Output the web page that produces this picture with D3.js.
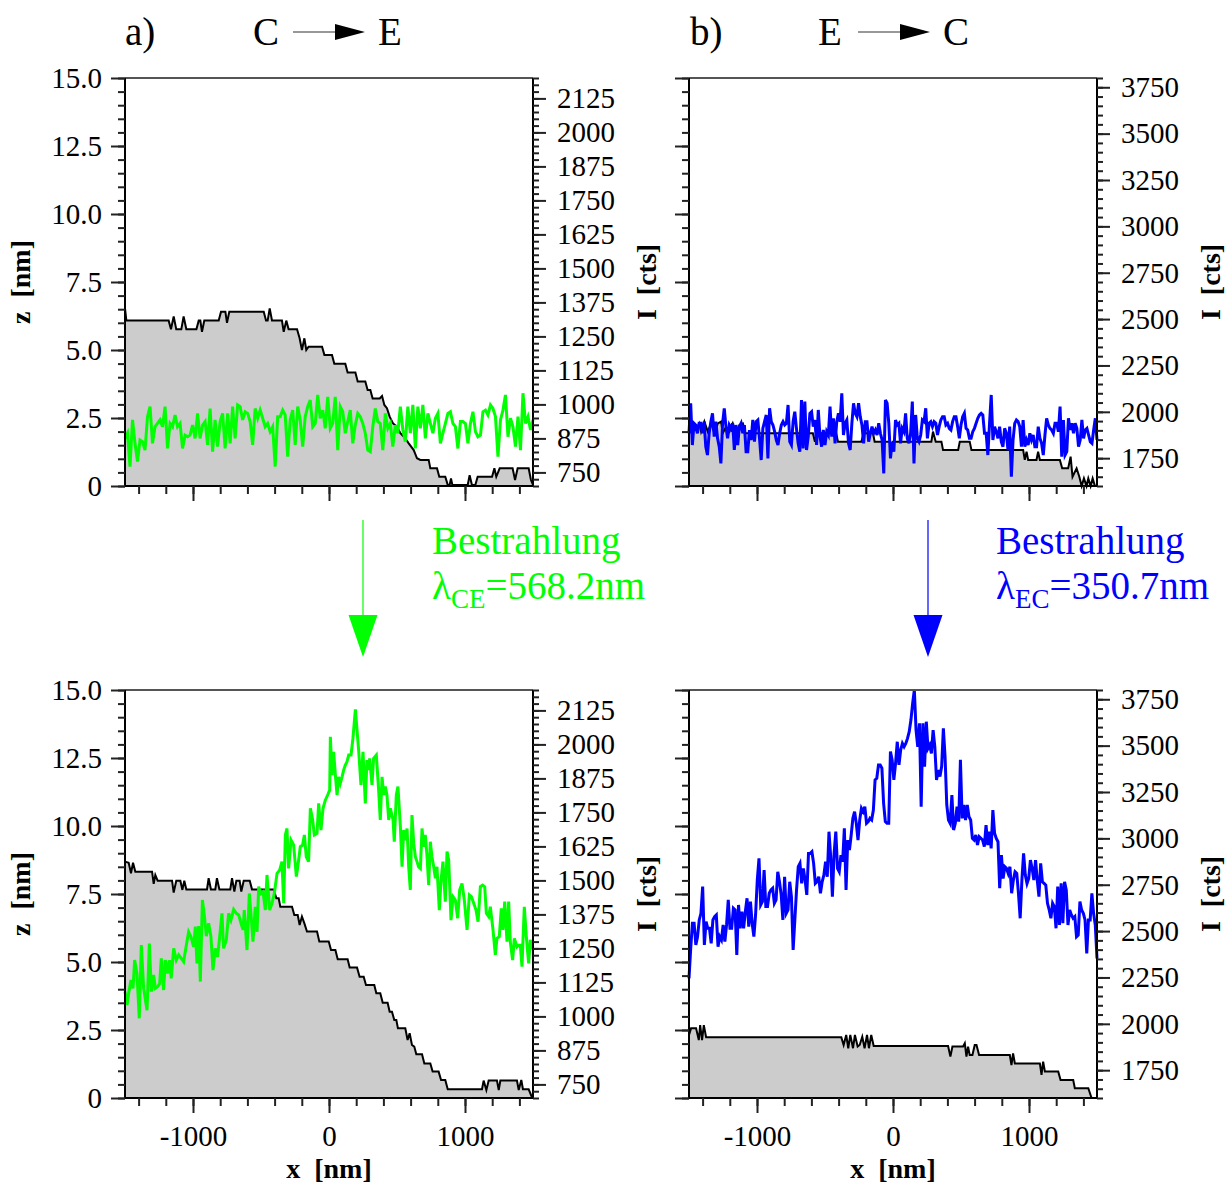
<!DOCTYPE html>
<html>
<head>
<meta charset="utf-8">
<script src="https://cdn.jsdelivr.net/npm/d3@7"></script>
<style>
  body { margin: 0; background: #fff; }
  text { font-family: "Liberation Serif", "Times New Roman", serif; }
</style>
</head>
<body>
<svg id="chart" width="1225" height="1184"></svg>
<script>
// scan range and axis domains
const xDomain = [-1500, 1500]
const zDomain = [0, 15]
const ceCountsDomain = [700, 2200]
const ecCountsDomain = [1600, 3800]

const xMajorTicks = [-1000, 0, 1000]
const zMajorTicks = [0, 2.5, 5, 7.5, 10, 12.5, 15]
const ceCountTicks = [750, 875, 1000, 1125, 1250, 1375, 1500, 1625, 1750, 1875, 2000, 2125]
const ecCountTicks = [1750, 2000, 2250, 2500, 2750, 3000, 3250, 3500, 3750]

// a) C -> E, before irradiation: height profile (x nm, z nm) and counts
const ceBeforeProfileX = [-1500,-1490,-1179,-1162,-1142,-1123,-1086,-1069,-1049,-975,-958,-946,-934,-917,-811,-794,-762,-750,-733,-480,-463,-451,-436,-419,-346,-333,-314,-297,-235,-216,-199,-181,-167,-150,-51,-34,22,39,120,137,194,211,267,284,304,321,373,390,407,426,446,471,500,525,561,586,623,647,672,733,745,794,811,855,873,887,897,907,1020,1034,1051,1076,1093,1199,1216,1230,1255,1350,1368,1387,1468,1485,1500]
const ceBeforeProfileZ = [6.53,6.08,6.08,5.76,6.23,5.76,5.76,6.23,5.76,5.76,6.08,6.08,5.67,6.08,6.08,6.41,6.41,6.00,6.41,6.41,6.08,6.08,6.53,6.08,6.08,5.67,6.08,5.76,5.76,5.43,5.00,5.43,5.00,5.12,5.12,4.82,4.82,4.49,4.49,4.17,4.17,3.84,3.84,3.53,3.53,3.22,3.22,3.31,2.98,2.86,2.55,2.30,2.18,1.94,1.75,1.57,1.32,1.02,0.96,0.96,0.65,0.65,0.34,0.34,0.04,0.04,0.28,0.04,0.04,0.40,0.04,0.04,0.34,0.34,0.65,0.34,0.65,0.65,0.22,0.65,0.65,0.22,0.04]
const ceBeforeCounts = [875,894,771,943,857,790,869,863,832,955,992,857,918,930,943,918,992,838,930,918,961,918,930,838,887,881,887,924,875,967,875,924,937,851,985,826,943,845,937,967,838,967,857,992,875,998,992,943,973,967,937,851,985,949,979,949,918,930,900,918,771,955,955,979,961,808,943,979,851,992,943,845,955,992,1016,918,930,1035,949,979,912,1028,912,930,1028,832,992,973,894,937,979,857,924,967,955,930,894,832,826,918,985,937,930,832,967,912,930,845,924,894,992,906,863,992,894,998,838,992,912,998,875,967,930,894,949,967,857,894,930,967,973,930,918,838,937,937,930,857,930,973,900,881,887,973,979,961,998,985,955,808,943,979,1035,881,949,918,845,955,832,1041,930,955,906,943]

// a) after irradiation
const ceAfterProfileX = [-1500,-1473,-1456,-1441,-1424,-1301,-1289,-1277,-1260,-1154,-1142,-1123,-1093,-1078,-1064,-1049,-897,-885,-868,-836,-824,-806,-726,-713,-696,-681,-657,-645,-627,-583,-566,-407,-387,-370,-358,-272,-255,-230,-216,-199,-181,-162,-88,-71,-2,15,47,64,137,152,206,225,255,272,333,348,377,395,431,446,463,480,495,507,561,578,593,610,627,642,684,701,745,762,806,824,855,873,1125,1137,1157,1174,1235,1248,1260,1382,1395,1414,1426,1468,1493,1500]
const ceAfterProfileZ = [8.69,8.65,8.26,8.65,8.32,8.32,7.87,8.20,7.99,7.99,7.55,7.99,7.99,7.65,7.99,7.67,7.67,8.08,7.67,7.67,8.08,7.67,7.67,8.08,7.59,7.99,7.99,7.59,7.99,7.99,7.67,7.67,7.34,7.34,7.03,7.03,6.73,6.73,6.36,6.67,6.42,6.12,6.12,5.75,5.75,5.44,5.44,5.10,5.10,4.80,4.80,4.46,4.46,4.15,4.15,3.85,3.85,3.50,3.50,3.17,3.17,2.87,2.87,2.56,2.56,2.13,2.38,1.95,1.89,1.61,1.61,1.27,1.27,0.97,0.97,0.66,0.66,0.32,0.32,0.64,0.29,0.64,0.64,0.29,0.64,0.64,0.29,0.66,0.32,0.32,0.02,0]
const ceAfterCountsX = [-1500,-1485,-1473,-1456,-1441,-1429,-1412,-1395,-1380,-1363,-1338,-1321,-1306,-1289,-1277,-1260,-1245,-1233,-1216,-1203,-1186,-1172,-1160,-1142,-1123,-1105,-1086,-1069,-1049,-1032,-1015,-995,-983,-971,-959,-946,-931,-917,-902,-885,-868,-853,-836,-819,-804,-787,-775,-755,-738,-721,-701,-681,-664,-647,-632,-623,-603,-586,-574,-559,-542,-529,-517,-500,-485,-468,-456,-436,-419,-402,-382,-363,-346,-333,-321,-309,-297,-279,-260,-240,-223,-211,-194,-181,-167,-150,-137,-120,-108,-88,-76,-59,-44,-27,-10,5,10,22,34,47,59,71,83,96,108,120,132,145,162,176,194,206,218,235,250,267,279,292,299,316,328,348,365,377,390,402,414,426,439,451,471,480,495,507,525,537,549,561,574,586,598,610,623,635,647,659,672,684,696,708,721,733,745,757,770,782,794,811,824,838,855,868,880,897,912,929,946,961,978,995,1015,1032,1047,1064,1081,1096,1113,1130,1145,1157,1174,1186,1206,1223,1235,1252,1267,1279,1292,1309,1321,1333,1350,1363,1382,1395,1407,1419,1436,1451,1468,1480,1500]
const ceAfterCounts = [1091,1042,1085,1134,1103,1207,1158,993,1262,1103,1023,1268,1091,1152,1103,1109,1121,1213,1097,1207,1158,1207,1140,1250,1207,1226,1213,1201,1262,1311,1293,1256,1330,1195,1332,1128,1428,1373,1295,1342,1293,1170,1250,1219,1293,1379,1250,1281,1379,1354,1393,1379,1373,1342,1318,1391,1244,1452,1379,1275,1403,1311,1477,1452,1458,1391,1520,1391,1416,1452,1526,1538,1569,1416,1667,1691,1544,1648,1630,1514,1575,1624,1630,1667,1587,1569,1765,1722,1667,1673,1783,1685,1765,1795,1814,1832,2028,1887,1973,1887,1814,1881,1857,1881,1906,1924,1936,1961,1961,2022,2129,2053,1979,1851,1973,1783,1942,1906,1949,1851,1949,1961,1832,1722,1881,1814,1845,1814,1722,1765,1722,1642,1814,1845,1697,1550,1685,1648,1691,1550,1465,1740,1636,1587,1569,1550,1544,1691,1624,1667,1587,1483,1642,1587,1550,1508,1550,1391,1501,1569,1422,1606,1575,1354,1440,1428,1361,1465,1489,1428,1318,1446,1440,1416,1391,1348,1477,1483,1477,1379,1367,1403,1318,1226,1287,1293,1397,1318,1422,1275,1422,1275,1207,1287,1256,1262,1262,1183,1403,1293,1195,1281,1244]

// b) E -> C, before irradiation
const ecBeforeProfileX = [-1500,-1472,-1448,-1423,-1411,-1387,-1362,-1337,-1313,-1288,-1264,-1252,-1227,-1202,-1178,-1153,-1129,-1104,-1085,-589,-574,-560,-417,-405,-233,-216,-147,-135,-25,-12,0,282,294,314,356,368,479,491,564,577,957,969,982,994,1055,1067,1080,1227,1244,1288,1306,1320,1350,1370,1387,1404,1423,1436,1453,1468,1485,1500]
const ecBeforeProfileZ = [1.94,2.24,2.06,2.30,2.00,2.37,2.00,2.30,1.94,2.30,2.37,1.94,2.18,2.00,2.30,1.94,2.24,2.30,1.94,1.94,1.63,1.94,1.94,1.63,1.63,1.94,1.94,1.63,1.63,1.32,1.63,1.63,2.00,1.63,1.63,1.32,1.32,1.63,1.63,1.32,1.32,0.96,1.26,0.96,0.96,1.26,0.96,0.96,0.65,0.65,1.08,0.34,0.65,0.34,0,0.28,0,0.28,0,0.28,0,0]
const ecBeforeCounts = [1884,2046,1821,1938,1929,1884,1938,1938,1884,1947,1812,1767,1884,1947,1992,1866,1947,1857,1812,1722,1938,2019,1920,1857,1929,1911,1938,1794,1929,1821,1920,1938,1884,1929,1785,1785,1902,1848,1956,1839,1947,1956,1857,1740,1911,1947,1983,1749,2019,1947,1929,1893,1848,1821,1884,1929,1947,1929,1938,2037,1839,1821,1947,2001,1911,1830,1785,2064,1803,2055,1794,1866,1992,2001,1920,1956,1821,2010,1866,1812,1902,1821,1893,1875,2028,1866,1965,1830,1947,1992,1947,2100,1875,1938,1956,1830,1794,1938,2046,1992,1974,2046,1974,1929,1830,1947,1947,1839,1884,1920,1884,1902,1875,1938,1884,1848,1668,2064,2046,1938,1749,1839,1785,1956,1929,1938,1830,1911,1893,1992,1857,1830,1884,2055,1722,1983,1857,1839,1875,1956,1947,2019,1857,1938,1947,1920,1947,1938,1875,1920,1956,1974,1974,1929,1938,1911,1902,1947,1974,1974,1920,1857,1929,1974,1992,1911,1902,1857,1857,1893,1911,1938,1965,1983,1992,1983,1884,1884,1767,1938,2091,1848,1920,1893,1857,1920,1839,1812,1911,1884,1794,1920,1650,1848,1938,1956,1947,1920,1812,1956,1812,1848,1821,1884,1848,1875,1812,1812,1920,1857,1830,1767,1875,1965,1929,1911,1902,1884,1938,1938,1893,2028,1758,1956,1767,1785,1965,1902,1938,1884,1938,1911,1812,1848,1956,1857,1902,1911,1875,1839,1830,1902,1965,1848]

// b) after irradiation
const ecAfterProfileX = [-1500,-1485,-1448,-1428,-1418,-1404,-1391,-1374,-380,-363,-344,-329,-314,-294,-280,-260,-245,-226,-209,-191,-177,-160,-142,405,422,437,515,528,540,552,564,584,601,614,633,859,871,883,896,1080,1092,1104,1117,1215,1232,1325,1337,1436,1460,1500]
const ecAfterProfileZ = [2.32,2.56,2.56,2.13,2.68,2.13,2.68,2.23,2.23,1.95,2.32,1.83,2.32,1.83,2.32,1.89,1.95,2.25,1.83,2.32,1.83,2.32,1.91,1.91,1.52,1.89,1.89,2.01,1.52,1.89,1.58,1.58,1.95,1.95,1.58,1.58,1.21,1.64,1.27,1.27,0.85,1.34,0.97,0.97,0.66,0.66,0.36,0.36,0,0]
const ecAfterCounts = [2245,2407,2542,2542,2425,2470,2560,2596,2740,2425,2551,2515,2515,2434,2560,2578,2587,2416,2470,2452,2533,2443,2533,2668,2515,2515,2623,2614,2371,2641,2515,2605,2515,2605,2677,2524,2659,2542,2470,2587,2775,2892,2641,2659,2829,2632,2632,2704,2722,2731,2650,2668,2820,2766,2695,2560,2793,2596,2614,2766,2686,2398,2560,2722,2847,2865,2757,2838,2775,2695,2919,2919,2928,2865,2757,2766,2793,2704,2766,2802,2874,2793,3036,2901,2686,2919,3036,2838,2820,2910,2874,3054,2722,2991,2937,3018,3108,3144,3081,2991,3099,3162,3144,3171,3081,3090,3108,3099,3153,3315,3324,3396,3396,3378,3189,3090,3081,3081,3468,3423,3315,3405,3521,3396,3477,3512,3494,3512,3539,3575,3638,3728,3800,3584,3494,3620,3171,3620,3387,3629,3485,3503,3458,3584,3494,3315,3369,3333,3387,3593,3440,3180,3099,3081,3234,3045,3081,3171,3090,3423,3108,3180,3099,3180,3117,3099,3000,2991,3018,2964,3009,3000,2991,2955,3072,2964,3036,2946,3153,3027,3000,2982,2731,2910,2784,2847,2838,2811,2847,2704,2775,2820,2811,2704,2569,2775,2919,2802,2757,2784,2883,2838,2775,2883,2775,2686,2865,2766,2757,2748,2650,2614,2569,2650,2632,2515,2740,2533,2757,2542,2766,2722,2533,2614,2587,2569,2578,2470,2479,2659,2614,2596,2560,2380,2560,2560,2704,2596,2533,2353]

const green = '#00ff00'
const blue = '#0000ff'
const size = 408

const svg = d3.select('#chart')
svg.append('rect').attr('width', 1225).attr('height', 1184).attr('fill', '#fff')

function drawPanel(p) {
  const x = d3.scaleLinear().domain(xDomain).range([p.left, p.left + size])
  const z = d3.scaleLinear().domain(zDomain).range([p.top + size, p.top])
  const c = d3.scaleLinear().domain(p.countsDomain).range([p.top + size, p.top])
  // counts without their own positions are sampled evenly along the scan
  const scan = d3.scaleLinear().domain([0, p.counts.length - 1]).range(xDomain)
  const countPos = p.countsX ? (i => p.countsX[i]) : (i => scan(i))

  const g = svg.append('g')
  const profile = p.profileX.map((d, i) => [d, p.profileZ[i]])

  const area = d3.area()
    .x(d => x(d[0]))
    .y0(z(0))
    .y1(d => z(d[1]))
  g.append('path')
    .attr('d', area(profile))
    .attr('fill', '#cccccc')

  const line = d3.line()
    .x(d => x(d[0]))
    .y(d => z(d[1]))
  g.append('path')
    .attr('d', line(profile))
    .attr('fill', 'none')
    .attr('stroke', '#000')
    .attr('stroke-width', 2)

  const countLine = d3.line()
    .x((d, i) => x(countPos(i)))
    .y(d => c(d))
  g.append('path')
    .attr('d', countLine(p.counts))
    .attr('fill', 'none')
    .attr('stroke', p.color)
    .attr('stroke-width', 3)
    .attr('stroke-linejoin', 'miter')

  // frame
  const bottom = p.top + size
  const right = p.left + size
  g.append('line').attr('x1', p.left).attr('x2', right).attr('y1', p.top).attr('y2', p.top)
    .attr('stroke', '#555').attr('stroke-width', 2)
  g.append('line').attr('x1', p.left - 1).attr('x2', right + 1).attr('y1', bottom).attr('y2', bottom)
    .attr('stroke', '#000').attr('stroke-width', 2)
  g.append('line').attr('x1', p.left).attr('x2', p.left).attr('y1', p.top).attr('y2', bottom)
    .attr('stroke', '#000').attr('stroke-width', 2)
  g.append('line').attr('x1', right).attr('x2', right).attr('y1', p.top).attr('y2', bottom)
    .attr('stroke', '#000').attr('stroke-width', 2)

  const zFmt = d => d === 0 ? '0' : d3.format('.1f')(d)
  const style = sel => {
    sel.select('.domain').remove()
    sel.selectAll('line').attr('stroke', '#222').attr('stroke-width', 2)
    sel.selectAll('text')
      .attr('font-family', '"Liberation Serif", "Times New Roman", serif')
      .attr('font-size', 29)
      .attr('fill', '#000')
  }

  // left z axis
  g.append('g').attr('transform', `translate(${p.left},0)`)
    .call(d3.axisLeft(z).tickValues(d3.range(0, 15.01, 0.5)).tickSize(7).tickFormat(''))
    .call(style)
  g.append('g').attr('transform', `translate(${p.left},0)`)
    .call(d3.axisLeft(z).tickValues(zMajorTicks).tickSize(14).tickPadding(9)
      .tickFormat(p.zLabels ? zFmt : ''))
    .call(style)

  // right counts axis
  g.append('g').attr('transform', `translate(${right},0)`)
    .call(d3.axisRight(c).tickValues(d3.range(p.countsDomain[0], p.countsDomain[1] + 1, p.minorStep))
      .tickSize(6).tickFormat(''))
    .call(style)
  g.append('g').attr('transform', `translate(${right},0)`)
    .call(d3.axisRight(c).tickValues(p.countTicks).tickSize(13).tickPadding(11).tickFormat(d3.format('d')))
    .call(style)

  // bottom x axis
  g.append('g').attr('transform', `translate(0,${bottom})`)
    .call(d3.axisBottom(x).tickValues(d3.range(-1400, 1401, 200)).tickSize(8).tickFormat(''))
    .call(style)
  g.append('g').attr('transform', `translate(0,${bottom})`)
    .call(d3.axisBottom(x).tickValues(xMajorTicks).tickSize(15).tickPadding(12)
      .tickFormat(p.xLabels ? d3.format('d') : ''))
    .call(style)
    .call(sel => sel.selectAll('text').text(d => p.xLabels ? String(d) : ''))

  // axis titles
  if (p.zTitle) {
    g.append('text')
      .attr('transform', `translate(${p.left - 95},${p.top + 204}) rotate(-90)`)
      .attr('text-anchor', 'middle')
      .attr('font-size', 28)
      .attr('font-weight', 'bold')
      .style('white-space', 'pre')
      .text('z  [nm]')
  }
  g.append('text')
    .attr('transform', `translate(${right + 123},${p.top + 204}) rotate(-90)`)
    .attr('text-anchor', 'middle')
    .attr('font-size', 28)
    .attr('font-weight', 'bold')
    .style('white-space', 'pre')
    .text('I  [cts]')
  if (p.xLabels) {
    g.append('text')
      .attr('x', p.left + size / 2)
      .attr('y', bottom + 80)
      .attr('text-anchor', 'middle')
      .attr('font-size', 28)
      .attr('font-weight', 'bold')
      .style('white-space', 'pre')
      .text('x  [nm]')
  }
}

drawPanel({ left: 125, top: 78, countsDomain: ceCountsDomain, countTicks: ceCountTicks, minorStep: 25,
  profileX: ceBeforeProfileX, profileZ: ceBeforeProfileZ, counts: ceBeforeCounts, color: green,
  zLabels: true, zTitle: true, xLabels: false })
drawPanel({ left: 125, top: 690, countsDomain: ceCountsDomain, countTicks: ceCountTicks, minorStep: 25,
  profileX: ceAfterProfileX, profileZ: ceAfterProfileZ, counts: ceAfterCounts, countsX: ceAfterCountsX,
  color: green, zLabels: true, zTitle: true, xLabels: true })
drawPanel({ left: 689, top: 78, countsDomain: ecCountsDomain, countTicks: ecCountTicks, minorStep: 50,
  profileX: ecBeforeProfileX, profileZ: ecBeforeProfileZ, counts: ecBeforeCounts, color: blue,
  zLabels: false, zTitle: false, xLabels: false })
drawPanel({ left: 689, top: 690, countsDomain: ecCountsDomain, countTicks: ecCountTicks, minorStep: 50,
  profileX: ecAfterProfileX, profileZ: ecAfterProfileZ, counts: ecAfterCounts, color: blue,
  zLabels: false, zTitle: false, xLabels: true })

// panel headings
function heading(x0, label, from, to) {
  const g = svg.append('g').attr('font-size', 39)
  g.append('text').attr('x', x0).attr('y', 45).text(label)
  g.append('text').attr('x', x0 + 128).attr('y', 45).text(from)
  g.append('line').attr('x1', x0 + 168).attr('x2', x0 + 212).attr('y1', 32).attr('y2', 32)
    .attr('stroke', '#333').attr('stroke-width', 1.2)
  g.append('path')
    .attr('d', `M${x0 + 210},24 L${x0 + 240},32 L${x0 + 210},40 Z`)
    .attr('fill', '#000')
  g.append('text').attr('x', x0 + 253).attr('y', 45).text(to)
}
heading(125, 'a)', 'C', 'E')
heading(690, 'b)', 'E', 'C')

// irradiation arrows and labels
function irradiation(ax, tx, color, sub, value) {
  const g = svg.append('g')
  g.append('line').attr('x1', ax).attr('x2', ax).attr('y1', 520).attr('y2', 617)
    .attr('stroke', color).attr('stroke-width', 1.2)
  g.append('path')
    .attr('d', `M${ax - 14.5},615 L${ax + 14.5},615 L${ax},657 Z`)
    .attr('fill', color)
  g.append('text').attr('x', tx).attr('y', 554).attr('font-size', 39).attr('fill', color)
    .text('Bestrahlung')
  const t = g.append('text').attr('x', tx).attr('y', 599).attr('font-size', 39).attr('fill', color)
  t.append('tspan').text('λ')
  t.append('tspan').attr('font-size', 27).attr('dy', 9).text(sub)
  t.append('tspan').attr('dy', -9).text(value)
}
irradiation(363, 432, green, 'CE', '=568.2nm')
irradiation(928, 996, blue, 'EC', '=350.7nm')
</script>
</body>
</html>
